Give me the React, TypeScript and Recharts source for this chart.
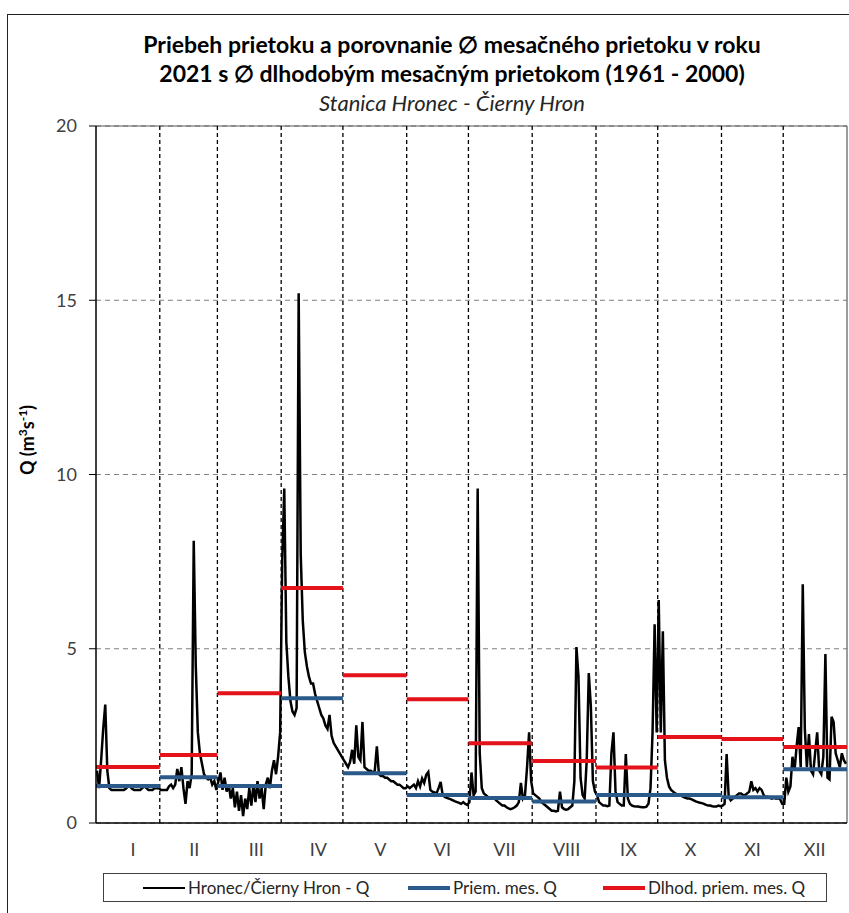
import React from "react";
import { ComposedChart, Line, XAxis, YAxis, CartesianGrid, ReferenceLine } from "recharts";

// Monthly categories
const MONTH_LABELS = ["I", "II", "III", "IV", "V", "VI", "VII", "VIII", "IX", "X", "XI", "XII"];
const MONTH_DAYS = [31, 28, 31, 30, 31, 30, 31, 31, 30, 31, 30, 31];
// where the month names sit on the day axis
const MONTH_LABEL_POS = [18, 47.8, 77.9, 108.1, 138.2, 168.4, 198.5, 228.7, 258.8, 289, 319.1, 349.3];

// Monthly means 2021 and long-term monthly means 1961-2000 (m3/s)
const PRIEM_MES_Q = [1.06, 1.31, 1.06, 3.58, 1.43, 0.8, 0.72, 0.62, 0.8, 0.8, 0.74, 1.54];
const DLHOD_PRIEM_MES_Q = [1.61, 1.95, 3.72, 6.74, 4.24, 3.55, 2.29, 1.78, 1.59, 2.47, 2.41, 2.18];

// Daily discharge Q
const Q_JAN = [1.5, 1.0, 1.8, 2.7, 3.4, 1.5, 1.0, 0.95, 0.95, 0.95, 0.95, 0.95, 0.95, 0.95, 0.98, 1.05, 1.05, 0.98, 0.95, 0.95, 0.95, 0.95, 1.0, 1.05, 1.0, 0.95, 0.95, 0.95, 1.0, 1.0, 1.0];
const Q_FEB = [0.95, 0.95, 0.95, 0.95, 1.05, 1.1, 1.0, 1.1, 1.55, 1.2, 1.6, 1.0, 0.55, 1.2, 1.0, 1.4, 8.1, 4.5, 2.6, 2.0, 1.7, 1.4, 1.3, 1.25, 1.3, 1.1, 1.2, 0.95];
const Q_MAR = [1.2, 1.45, 0.95, 1.3, 0.9, 1.1, 0.7, 1.0, 0.45, 0.9, 0.35, 0.8, 0.2, 0.7, 0.4, 1.0, 0.5, 1.1, 0.6, 1.2, 0.7, 1.0, 0.4, 1.1, 1.3, 1.0, 1.5, 1.8, 1.4, 1.9, 2.6];
const Q_APR = [7.5, 9.6, 5.2, 4.2, 3.5, 3.2, 3.1, 3.3, 15.2, 7.7, 5.8, 4.9, 4.5, 4.2, 4.0, 4.0, 3.7, 3.5, 3.3, 3.1, 3.0, 2.8, 2.7, 3.1, 2.5, 2.3, 2.2, 2.1, 2.0, 1.9];
const Q_MAY = [1.8, 1.7, 1.6, 1.75, 2.1, 1.7, 2.8, 1.9, 1.8, 2.9, 1.6, 1.55, 1.5, 1.5, 1.45, 1.5, 2.2, 1.4, 1.35, 1.35, 1.3, 1.3, 1.25, 1.2, 1.2, 1.15, 1.1, 1.1, 1.05, 1.0, 1.0];
const Q_JUN = [1.05, 1.0, 1.05, 1.1, 1.0, 1.2, 1.05, 1.28, 1.15, 1.38, 1.46, 0.95, 0.9, 0.88, 0.85, 1.0, 1.18, 0.8, 0.75, 0.72, 0.7, 0.68, 0.65, 0.62, 0.6, 0.58, 0.55, 0.6, 0.55, 0.52];
const Q_JUL = [0.6, 1.45, 0.8, 0.9, 9.6, 2.0, 1.0, 0.85, 0.8, 0.75, 0.7, 0.7, 0.72, 0.65, 0.6, 0.55, 0.5, 0.5, 0.45, 0.42, 0.4, 0.42, 0.45, 0.5, 0.6, 1.15, 0.7, 0.8, 1.6, 2.6, 1.2];
const Q_AUG = [0.85, 0.8, 0.75, 0.7, 0.6, 0.55, 0.5, 0.45, 0.4, 0.35, 0.35, 0.33, 0.35, 0.9, 0.45, 0.4, 0.38, 0.4, 0.45, 0.5, 1.2, 5.05, 4.2, 1.3, 0.8, 0.7, 1.8, 4.3, 3.35, 1.2, 0.9];
const Q_SEP = [0.8, 0.6, 0.55, 0.5, 0.5, 0.48, 0.5, 2.0, 2.6, 0.9, 0.6, 0.55, 0.5, 0.5, 1.98, 0.7, 0.55, 0.5, 0.48, 0.47, 0.47, 0.46, 0.45, 0.45, 0.47, 0.55, 1.0, 2.6, 5.7, 2.6];
const Q_OCT = [6.4, 2.6, 5.5, 1.8, 1.3, 1.05, 0.95, 0.9, 0.85, 0.82, 0.8, 0.78, 0.75, 0.72, 0.7, 0.7, 0.68, 0.65, 0.62, 0.6, 0.58, 0.57, 0.55, 0.52, 0.5, 0.5, 0.48, 0.47, 0.47, 0.5, 0.48];
const Q_NOV = [0.5, 0.55, 1.98, 0.75, 0.65, 0.7, 0.75, 0.8, 0.85, 0.85, 0.8, 0.8, 0.85, 0.9, 1.2, 0.95, 1.0, 0.9, 1.0, 0.95, 0.8, 0.75, 0.75, 0.72, 0.7, 0.72, 0.7, 0.72, 0.68, 0.55];
const Q_DEC = [0.55, 1.3, 0.9, 1.05, 1.9, 1.5, 2.2, 2.75, 1.6, 6.85, 2.7, 1.6, 2.55, 1.5, 1.4, 2.0, 2.6, 1.5, 1.4, 1.9, 4.85, 1.3, 1.25, 3.05, 2.9, 2.0, 1.8, 1.6, 2.0, 1.8, 1.7];

const Y_TICKS = [0, 5, 10, 15, 20];

const DAILY_Q = [
  Q_JAN, Q_FEB, Q_MAR, Q_APR, Q_MAY, Q_JUN,
  Q_JUL, Q_AUG, Q_SEP, Q_OCT, Q_NOV, Q_DEC,
];

// one table: day rows carry q, month edges carry the step values, a null row breaks the steps
function buildRows() {
  const rows: any[] = [];
  let start = 0;
  MONTH_DAYS.forEach((n, m) => {
    const priem = PRIEM_MES_Q[m];
    const dlhod = DLHOD_PRIEM_MES_Q[m];
    rows.push({ day: start, q: null, priem, dlhod });
    DAILY_Q[m].forEach((q, i) => {
      rows.push({ day: start + i + 0.5, q, priem, dlhod });
    });
    rows.push({ day: start + n, q: null, priem, dlhod });
    rows.push({ day: start + n, q: null, priem: null, dlhod: null });
    start += n;
  });
  return rows;
}

const rows = buildRows();
const monthEdges = MONTH_DAYS.slice(0, -1).map((_, i) =>
  MONTH_DAYS.slice(0, i + 1).reduce((a, b) => a + b, 0)
);

const FONT = "Lato, 'Open Sans', sans-serif";

function LegendItem({ color, label, width }: { color: string; label: string; width: number }) {
  return (
    <div style={{ display: "flex", alignItems: "center", width }}>
      <div style={{ width: 42, height: color === "#000" ? 2 : 4, background: color, marginRight: 3 }} />
      <span style={{ fontSize: 17, color: "#262626", whiteSpace: "nowrap" }}>{label}</span>
    </div>
  );
}

export default function App() {
  return (
    <div
      style={{
        position: "absolute",
        left: 0,
        top: 0,
        width: 849,
        height: 913,
        overflow: "hidden",
        background: "#fff",
        fontFamily: FONT,
      }}
    >
      {/* outer frame */}
      <div
        style={{
          position: "absolute",
          left: 7,
          top: 14,
          width: 900,
          height: 950,
          border: "1px solid #222",
        }}
      />

      {/* title */}
      <div style={{ position: "absolute", left: 52, width: 800, top: 30, textAlign: "center", color: "#000" }}>
        <div style={{ fontSize: 23, fontWeight: 700, lineHeight: "29px" }}>
          Priebeh prietoku a porovnanie ∅ mesačného prietoku v roku
        </div>
        <div style={{ fontSize: 23, fontWeight: 700, lineHeight: "29px" }}>
          2021 s ∅ dlhodobým mesačným prietokom (1961 - 2000)
        </div>
        <div style={{ fontSize: 22, fontStyle: "italic", lineHeight: "29px", color: "#262626" }}>
          Stanica Hronec - Čierny Hron
        </div>
      </div>

      {/* y axis title */}
      <div
        style={{
          position: "absolute",
          left: 26,
          top: 440,
          transform: "translate(-50%, -50%) rotate(-90deg)",
          fontSize: 18,
          fontWeight: 700,
          whiteSpace: "nowrap",
          color: "#000",
        }}
      >
        Q (m<sup style={{ fontSize: 12 }}>3</sup>s<sup style={{ fontSize: 12 }}>-1</sup>)
      </div>

      <div style={{ position: "absolute", left: 0, top: 0 }}>
        <ComposedChart
          width={849}
          height={913}
          data={rows}
          margin={{ top: 126, right: 2, bottom: 60, left: 0 }}
        >
          <CartesianGrid
            horizontal={true}
            vertical={false}
            stroke="#808080"
            strokeDasharray="5 4"
          />
          <XAxis
            dataKey="day"
            type="number"
            domain={[0, 365]}
            ticks={MONTH_LABEL_POS}
            tickFormatter={(v, i) => MONTH_LABELS[i]}
            interval={0}
            tickLine={false}
            tickSize={0}
            tickMargin={20}
            height={30}
            axisLine={{ stroke: "#000", strokeWidth: 1.5 }}
            tick={{ fill: "#404040", fontSize: 18, fontFamily: FONT }}
          />
          <YAxis
            type="number"
            domain={[0, 20]}
            ticks={Y_TICKS}
            interval={0}
            width={96}
            tickSize={7}
            tickMargin={12}
            tickLine={{ stroke: "#000" }}
            axisLine={{ stroke: "#000", strokeWidth: 1.5 }}
            tick={{ fill: "#404040", fontSize: 18, fontFamily: FONT }}
          />
          <ReferenceLine y={20} stroke="#595959" strokeWidth={1.2} />
          <ReferenceLine x={365} stroke="#595959" strokeWidth={1.2} />
          {monthEdges.map((d) => (
            <ReferenceLine key={d} x={d} stroke="#000" strokeWidth={1.3} strokeDasharray="4 3" />
          ))}
          <Line
            dataKey="q"
            name="Hronec/Čierny Hron - Q"
            type="linear"
            stroke="#000"
            strokeWidth={2.5}
            strokeLinejoin="miter"
            dot={false}
            connectNulls
            isAnimationActive={false}
          />
          <Line
            dataKey="priem"
            name="Priem. mes. Q"
            type="linear"
            stroke="#2b5a8a"
            strokeWidth={4}
            dot={false}
            isAnimationActive={false}
          />
          <Line
            dataKey="dlhod"
            name="Dlhod. priem. mes. Q"
            type="linear"
            stroke="#e3121b"
            strokeWidth={4}
            dot={false}
            isAnimationActive={false}
          />
        </ComposedChart>
      </div>

      {/* legend */}
      <div
        style={{
          position: "absolute",
          left: 103,
          top: 873,
          width: 724,
          height: 29,
          border: "1px solid #404040",
          display: "flex",
          alignItems: "center",
          paddingLeft: 39,
          boxSizing: "border-box",
        }}
      >
        <LegendItem color="#000" label="Hronec/Čierny Hron - Q" width={265} />
        <LegendItem color="#2b5a8a" label="Priem. mes. Q" width={195} />
        <LegendItem color="#e3121b" label="Dlhod. priem. mes. Q" width={210} />
      </div>
    </div>
  );
}
